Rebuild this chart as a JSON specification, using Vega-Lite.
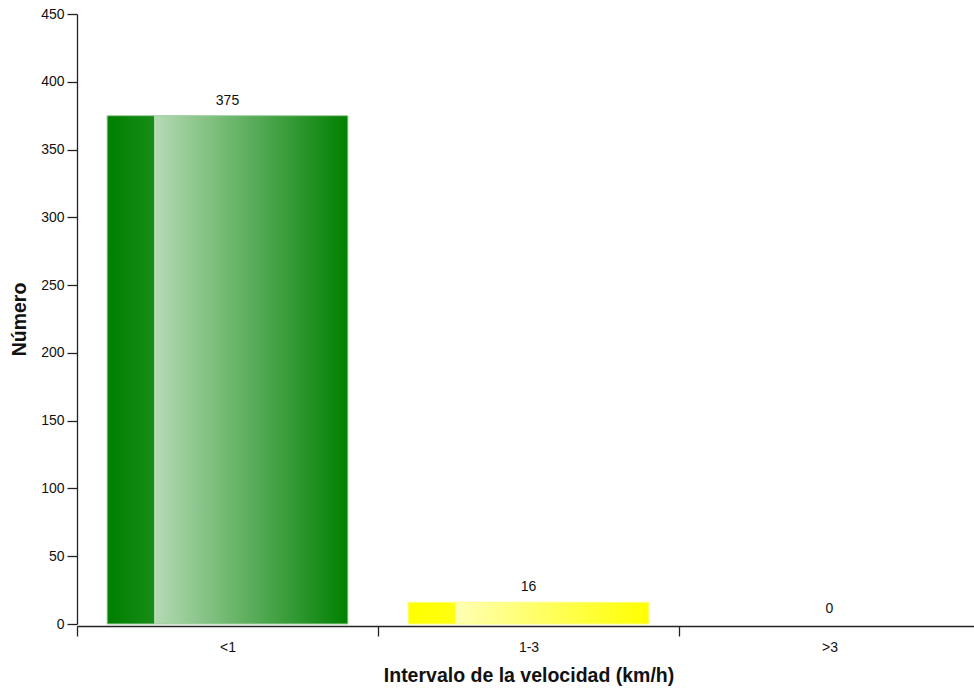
{
  "$schema": "https://vega.github.io/schema/vega-lite/v6.json",
  "width": 897,
  "height": 610,
  "autosize": "none",
  "padding": {"left": 77, "top": 14, "right": 0, "bottom": 67},
  "background": "white",
  "config": {
    "view": {"stroke": null},
    "font": "Liberation Sans",
    "axis": {
      "domainColor": "#222222",
      "domainWidth": 1.3,
      "tickColor": "#222222",
      "tickWidth": 1.3,
      "tickSize": 10,
      "labelFont": "Liberation Sans",
      "labelFontSize": 14,
      "labelColor": "#111111",
      "titleFont": "Liberation Sans",
      "titleFontSize": 19.5,
      "titleFontWeight": "bold",
      "titleColor": "#111111",
      "grid": false
    }
  },
  "data": {
    "values": [
      {"intervalo": "<1", "numero": 375},
      {"intervalo": "1-3", "numero": 16},
      {"intervalo": ">3", "numero": 0}
    ]
  },
  "encoding": {
    "x": {
      "field": "intervalo",
      "type": "nominal",
      "sort": ["<1", "1-3", ">3"],
      "scale": {"range": [0, 903], "paddingInner": 0, "paddingOuter": 0},
      "axis": {
        "title": "Intervalo de la velocidad (km/h)",
        "labelAngle": 0,
        "tickBand": "extent",
        "offset": 2,
        "labelPadding": 4,
        "titlePadding": 12
      }
    },
    "y": {
      "field": "numero",
      "type": "quantitative",
      "scale": {"domain": [0, 450], "nice": false},
      "axis": {
        "title": "Número",
        "values": [0, 50, 100, 150, 200, 250, 300, 350, 400, 450],
        "labelPadding": 3,
        "titlePadding": 11
      }
    }
  },
  "layer": [
    {
      "transform": [{"filter": "datum.intervalo === '<1'"}],
      "mark": {
        "type": "bar",
        "width": {"band": 0.8},
        "stroke": "#9fd09f",
        "strokeWidth": 1,
        "color": {
          "gradient": "linear",
          "x1": 0, "x2": 1, "y1": 0, "y2": 0,
          "stops": [
            {"offset": 0, "color": "#007f00"},
            {"offset": 0.195, "color": "#178c17"},
            {"offset": 0.197, "color": "#b5dab5"},
            {"offset": 1, "color": "#008000"}
          ]
        }
      }
    },
    {
      "transform": [{"filter": "datum.intervalo === '1-3'"}],
      "mark": {
        "type": "bar",
        "width": {"band": 0.8},
        "stroke": "#ffff80",
        "strokeWidth": 1,
        "color": {
          "gradient": "linear",
          "x1": 0, "x2": 1, "y1": 0, "y2": 0,
          "stops": [
            {"offset": 0, "color": "#ffff00"},
            {"offset": 0.195, "color": "#ffff10"},
            {"offset": 0.197, "color": "#ffffb5"},
            {"offset": 1, "color": "#ffff00"}
          ]
        }
      }
    },
    {
      "mark": {
        "type": "text",
        "baseline": "bottom",
        "dy": -8,
        "fontSize": 14,
        "color": "#111111",
        "font": "Liberation Sans"
      },
      "encoding": {"text": {"field": "numero", "type": "quantitative"}}
    }
  ]
}
